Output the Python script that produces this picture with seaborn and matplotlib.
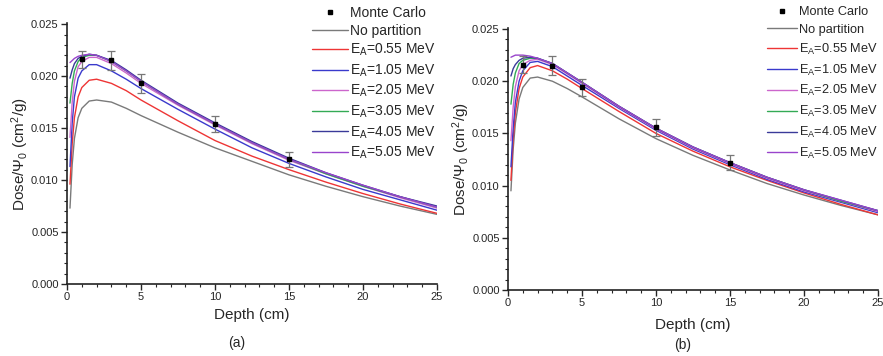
import numpy as np
import pandas as pd
import seaborn as sns
import matplotlib.pyplot as plt
from matplotlib.ticker import MultipleLocator, FormatStrFormatter

# depth grid (cm) shared by all calculated curves
depth = [0.2, 0.35, 0.5, 0.75, 1.0, 1.5, 2.0, 3.0, 4.0, 5.0, 7.5, 10, 12.5, 15, 17.5, 20, 22.5, 25]

series_names = ['No partition', '0.55', '1.05', '2.05', '3.05', '4.05', '5.05']

# panel (a) dose values, units of 1e-3 cm^2/g
dose_a_none = [7.3, 11.5, 14.0, 16.0, 16.9, 17.6, 17.7, 17.5, 16.9, 16.2, 14.6, 13.1, 11.8, 10.5, 9.4, 8.4, 7.5, 6.7]
dose_a_055 = [9.6, 13.5, 16.0, 18.0, 18.9, 19.6, 19.7, 19.3, 18.6, 17.7, 15.7, 13.8, 12.3, 11.0, 9.8, 8.7, 7.7, 6.8]
dose_a_105 = [11.3, 15.5, 18.0, 19.8, 20.5, 21.1, 21.1, 20.5, 19.7, 18.8, 16.8, 14.9, 13.1, 11.6, 10.3, 9.1, 8.1, 7.1]
dose_a_205 = [14.1, 17.5, 19.5, 20.9, 21.4, 21.8, 21.8, 21.2, 20.3, 19.3, 17.2, 15.3, 13.5, 11.9, 10.6, 9.4, 8.3, 7.3]
dose_a_305 = [17.4, 19.3, 20.5, 21.4, 21.8, 22.0, 22.0, 21.4, 20.5, 19.5, 17.3, 15.4, 13.6, 12.0, 10.6, 9.4, 8.4, 7.4]
dose_a_405 = [19.8, 20.6, 21.2, 21.7, 21.9, 22.1, 22.0, 21.5, 20.6, 19.6, 17.4, 15.5, 13.7, 12.1, 10.7, 9.5, 8.4, 7.5]
dose_a_505 = [21.3, 21.5, 21.7, 21.9, 22.0, 22.1, 22.0, 21.4, 20.5, 19.5, 17.3, 15.4, 13.6, 12.0, 10.7, 9.5, 8.4, 7.4]

# panel (b) dose values, units of 1e-3 cm^2/g
dose_b_none = [9.5, 13.5, 16.0, 18.3, 19.4, 20.3, 20.4, 20.0, 19.3, 18.5, 16.4, 14.5, 12.9, 11.5, 10.2, 9.1, 8.1, 7.2]
dose_b_055 = [10.5, 14.5, 17.0, 19.3, 20.4, 21.3, 21.5, 21.0, 20.2, 19.3, 17.1, 15.0, 13.3, 11.8, 10.5, 9.3, 8.2, 7.2]
dose_b_105 = [11.8, 15.5, 18.0, 20.0, 21.0, 21.8, 21.9, 21.4, 20.5, 19.6, 17.4, 15.3, 13.5, 12.0, 10.6, 9.4, 8.4, 7.4]
dose_b_205 = [14.3, 17.5, 19.5, 21.0, 21.6, 22.0, 22.1, 21.6, 20.7, 19.8, 17.5, 15.4, 13.6, 12.1, 10.7, 9.5, 8.5, 7.5]
dose_b_305 = [17.8, 19.7, 20.8, 21.7, 22.0, 22.2, 22.2, 21.7, 20.8, 19.9, 17.6, 15.5, 13.7, 12.2, 10.8, 9.6, 8.5, 7.6]
dose_b_405 = [20.5, 21.2, 21.6, 22.0, 22.2, 22.3, 22.2, 21.7, 20.8, 19.9, 17.6, 15.5, 13.7, 12.2, 10.8, 9.6, 8.6, 7.6]
dose_b_505 = [22.3, 22.4, 22.5, 22.5, 22.5, 22.4, 22.2, 21.7, 20.8, 19.9, 17.6, 15.5, 13.7, 12.2, 10.8, 9.6, 8.6, 7.6]

# Monte Carlo reference points
mc_depth = [1, 3, 5, 10, 15]
mc_a = [21.6, 21.5, 19.3, 15.4, 12.0]
mc_a_err = [0.8, 0.9, 0.9, 0.8, 0.7]
mc_b = [21.6, 21.5, 19.4, 15.6, 12.2]
mc_b_err = [0.8, 0.9, 0.8, 0.8, 0.7]

colors = ['#7a7a7a', '#ee3535', '#3a3acc', '#cc66cc', '#33aa55', '#3a3a99', '#9944cc']

sns.set_style('ticks')
plt.rcParams['font.family'] = ['Liberation Sans', 'DejaVu Sans']
plt.rcParams['mathtext.fontset'] = 'custom'
plt.rcParams['mathtext.rm'] = 'Liberation Sans'
plt.rcParams['mathtext.it'] = 'Liberation Sans:italic'


def label_of(name):
    if name == 'No partition':
        return name
    return r'E$_\mathrm{A}$=' + name + ' MeV'


def make_df(curves):
    rows = []
    for name, vals in zip(series_names, curves):
        for d, v in zip(depth, vals):
            rows.append({'Depth': d, 'Dose': v / 1000.0, 'Series': label_of(name)})
    return pd.DataFrame(rows)


def draw_panel(ax, curves, mc, mc_err, leg_anchor, leg_size, handle_len, spacing, xpad):
    df = make_df(curves)
    palette = dict(zip([label_of(n) for n in series_names], colors))
    sns.lineplot(data=df, x='Depth', y='Dose', hue='Series', palette=palette,
                 linewidth=1.0, ax=ax, legend=False, sort=False)
    ax.errorbar(mc_depth, np.array(mc) / 1000.0, yerr=np.array(mc_err) / 1000.0,
                fmt='s', ms=3, color='black', ecolor='#777777', elinewidth=0.9,
                capsize=3, capthick=0.9, zorder=5)
    ax.set_xlim(0, 25)
    ax.set_ylim(0, 0.0251)
    ax.xaxis.set_major_locator(MultipleLocator(5))
    ax.xaxis.set_minor_locator(MultipleLocator(1))
    ax.yaxis.set_major_locator(MultipleLocator(0.005))
    ax.yaxis.set_minor_locator(MultipleLocator(0.001))
    ax.yaxis.set_major_formatter(FormatStrFormatter('%.3f'))
    ax.tick_params(which='major', direction='out', length=4, width=1, labelsize=8, pad=2)
    ax.tick_params(which='minor', direction='out', length=2, width=0.8)
    for s in ['top', 'right']:
        ax.spines[s].set_visible(False)
    for s in ['left', 'bottom']:
        ax.spines[s].set_linewidth(1.2)
        ax.spines[s].set_color('#222222')
    ax.set_xlabel('Depth (cm)', fontsize=11, labelpad=xpad)
    ax.set_ylabel(r'Dose/$\Psi_0$ (cm$^2$/g)', fontsize=11, labelpad=0)

    handles = [plt.Line2D([], [], ls='none', marker='s', ms=3, color='black')]
    handles += [plt.Line2D([], [], color=c, lw=1.0) for c in colors]
    labels = ['Monte Carlo'] + [label_of(n) for n in series_names]
    ax.figure.legend(handles, labels, loc='upper left', bbox_to_anchor=leg_anchor,
                     frameon=False, fontsize=leg_size, handlelength=handle_len,
                     handletextpad=0.2, labelspacing=spacing, borderaxespad=0)


fig = plt.figure(figsize=(8.83, 3.56), dpi=100)
ax_a = fig.add_axes([0.0759, 0.2022, 0.419, 0.733])
ax_b = fig.add_axes([0.5753, 0.1854, 0.419, 0.736])

draw_panel(ax_a, [dose_a_none, dose_a_055, dose_a_105, dose_a_205, dose_a_305, dose_a_405, dose_a_505],
           mc_a, mc_a_err, (306 / 883, 1.0), 10, 2.6, 0.3, 4)
draw_panel(ax_b, [dose_b_none, dose_b_055, dose_b_105, dose_b_205, dose_b_305, dose_b_405, dose_b_505],
           mc_b, mc_b_err, (762 / 883, 1 - 1 / 356), 9.2, 2.3, 0.45, 7)

fig.text(237 / 883, 1 - 343 / 356, '(a)', ha='center', va='center', fontsize=10)
fig.text(683 / 883, 1 - 345 / 356, '(b)', ha='center', va='center', fontsize=10)

fig.savefig('out.png', dpi=100)
